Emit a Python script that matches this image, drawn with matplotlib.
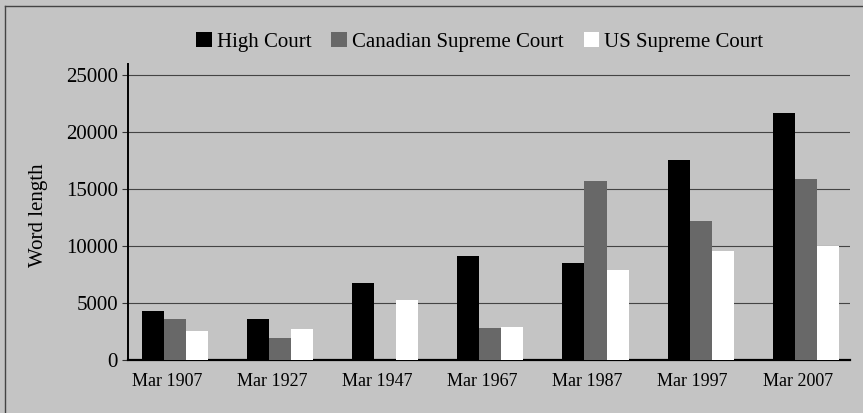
import matplotlib
matplotlib.use("Agg")
import matplotlib.pyplot as plt
import matplotlib.transforms as mtransforms
import numpy as np
from matplotlib.lines import Line2D

# Word length of judgments
years = ["Mar 1907", "Mar 1927", "Mar 1947", "Mar 1967", "Mar 1987", "Mar 1997", "Mar 2007"]
high_court = [4300, 3600, 6800, 9100, 8500, 17600, 21700]
canadian_sc = [3600, 1900, 0, 2800, 15700, 12200, 15900]
us_sc = [2600, 2700, 5300, 2900, 7950, 9600, 10000]

plt.rcParams["font.family"] = ["Liberation Serif", "DejaVu Serif"]

BG = "#c4c4c4"
fig = plt.figure(figsize=(8.63, 4.13), dpi=100, facecolor=BG)
ax = fig.add_axes([0.148, 0.128, 0.837, 0.717])
ax.set_facecolor(BG)

# scan frame: left and top edges of the original box
fig.lines.append(Line2D([0.006, 0.006], [0.0, 0.986], transform=fig.transFigure,
                        color="#444444", lw=1.0))
fig.lines.append(Line2D([0.006, 1.0], [0.986, 0.986], transform=fig.transFigure,
                        color="#444444", lw=1.0))

x = np.arange(len(years))
w = 0.21
ax.bar(x - w, high_court, w, color="black", label="High Court", zorder=3)
ax.bar(x, canadian_sc, w, color="#686868", label="Canadian Supreme Court", zorder=3)
ax.bar(x + w, us_sc, w, color="white", label="US Supreme Court", zorder=3)

ax.set_xlim(-0.447, 6.42)
ax.set_ylim(0, 26000)
ax.set_yticks(range(0, 25001, 5000))
ax.set_xticks(x)
ax.set_xticklabels(years, fontsize=13)
ax.tick_params(axis="y", labelsize=15, length=4, width=0.8, color="#333333", pad=3)
ax.tick_params(axis="x", length=0, pad=9)
# category labels sit a little left of their bar groups
shift = mtransforms.ScaledTranslation(-8 / 100, 0, fig.dpi_scale_trans)
for lab in ax.get_xticklabels():
    lab.set_transform(lab.get_transform() + shift)

ax.yaxis.grid(True, color="#444444", lw=0.8, zorder=0)
ax.set_axisbelow(True)

for s in ["top", "right"]:
    ax.spines[s].set_visible(False)
ax.spines["left"].set_linewidth(1.4)
ax.spines["bottom"].set_linewidth(1.6)

ax.set_ylabel("Word length", fontsize=15)
ax.yaxis.set_label_coords(-0.11, 0.49)

fig.legend(loc="center", bbox_to_anchor=(0.556, 0.898), ncol=3, frameon=False,
           fontsize=15, handlelength=0.75, handleheight=0.75, handletextpad=0.25,
           columnspacing=0.95)

fig.savefig("out.png", dpi=100, facecolor=BG)
